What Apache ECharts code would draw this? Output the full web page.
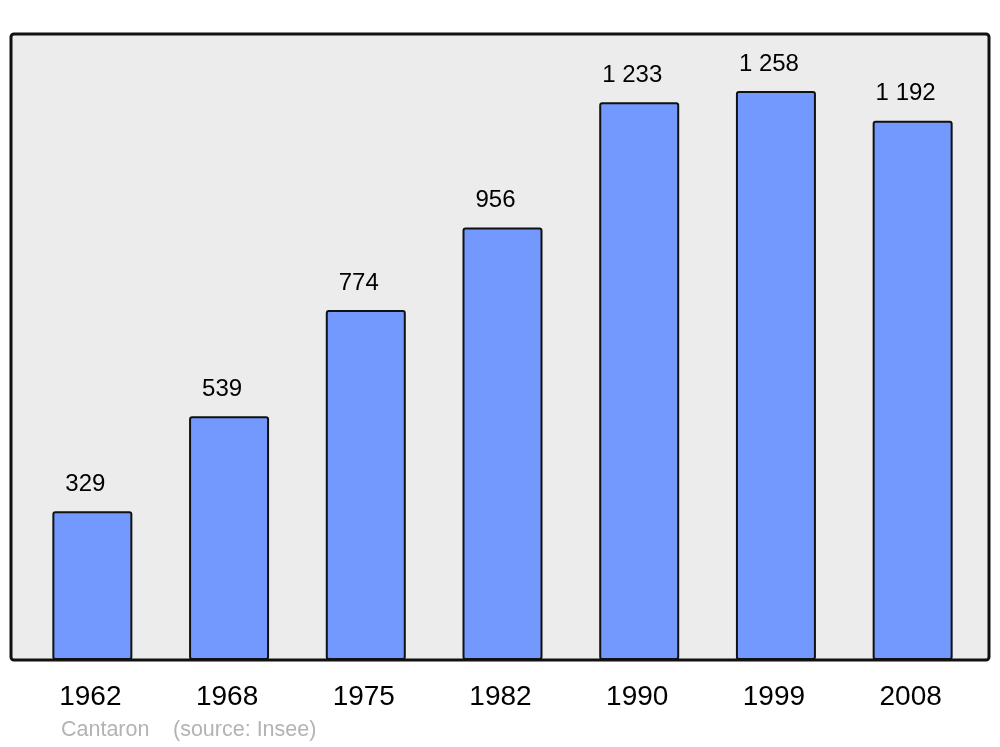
<!DOCTYPE html>
<html>
<head>
<meta charset="utf-8">
<script src="https://cdn.jsdelivr.net/npm/echarts@6/dist/echarts.min.js"></script>
<style>
html,body{margin:0;padding:0;background:#fff;}
#chart{width:1000px;height:747px;}
</style>
</head>
<body>
<div id="chart"></div>
<script>
const years = ['1962', '1968', '1975', '1982', '1990', '1999', '2008'];
const population = [329, 539, 774, 956, 1233, 1258, 1192];
const placeName = 'Cantaron';
const sourceLabel = '(source: Insee)';

function fmt(v) {
  return String(v).replace(/\B(?=(\d{3})+(?!\d))/g, ' ');
}

const FONT = 'Liberation Sans, Arial, sans-serif';
const chart = echarts.init(document.getElementById('chart'), null, {renderer: 'canvas'});
chart.setOption({
  animation: false,
  backgroundColor: '#ffffff',
  textStyle: {fontFamily: FONT},
  graphic: [
    {
      type: 'rect', z: -10, silent: true,
      shape: {x: 11, y: 34, width: 978, height: 626, r: 3},
      style: {fill: '#ececec', stroke: '#111111', lineWidth: 3}
    },
    {
      type: 'text', left: 61, top: 719, silent: true,
      style: {text: placeName, fill: '#b3b3b3', fontSize: 21.5, fontFamily: FONT}
    },
    {
      type: 'text', left: 173, top: 719, silent: true,
      style: {text: sourceLabel, fill: '#b3b3b3', fontSize: 21.5, fontFamily: FONT}
    }
  ],
  grid: {left: 24, right: 19, top: 34, bottom: 87, containLabel: false},
  xAxis: {
    type: 'category',
    data: years,
    axisLine: {show: false},
    axisTick: {show: false},
    axisLabel: {color: '#000', fontSize: 28, margin: 23, padding: [0, 4, 0, 0], fontFamily: FONT}
  },
  yAxis: {
    type: 'value', min: 0, max: 1384,
    show: false,
    splitLine: {show: false}
  },
  series: [{
    type: 'bar',
    data: population,
    barWidth: 80,
    itemStyle: {color: '#7399ff', borderColor: '#111111', borderWidth: 2, borderRadius: 2},
    label: {
      show: true, position: 'top', distance: 15, offset: [-7, 0],
      color: '#000', fontSize: 24, fontFamily: FONT,
      formatter: p => fmt(p.value)
    }
  }]
});
</script>
</body>
</html>
